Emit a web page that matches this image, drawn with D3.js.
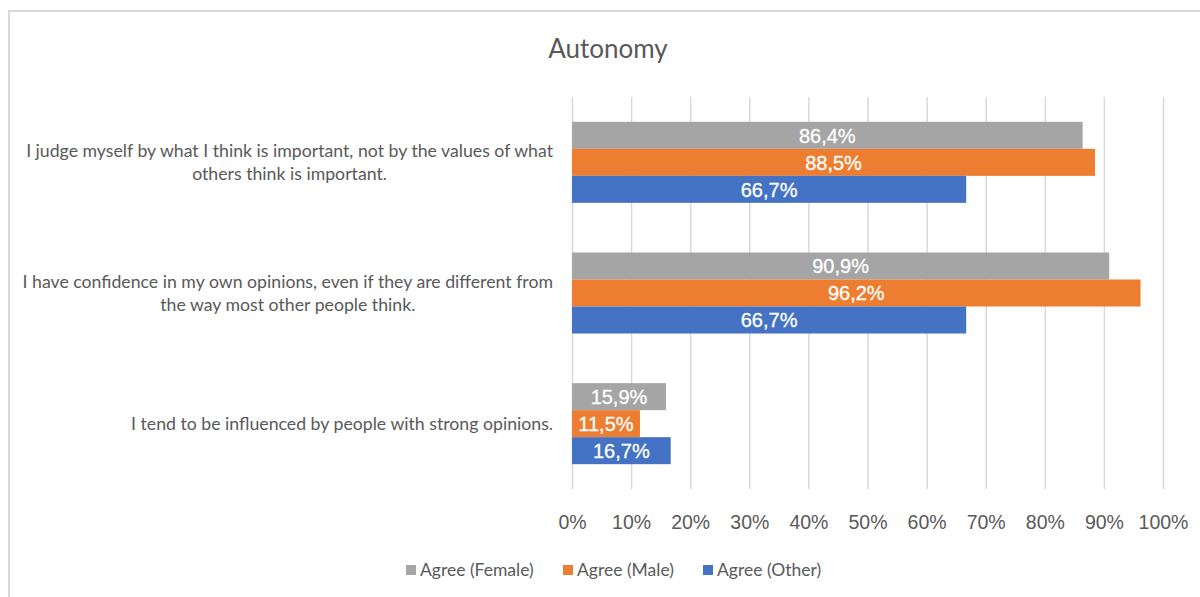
<!DOCTYPE html>
<html>
<head>
<meta charset="utf-8">
<script src="https://cdn.jsdelivr.net/npm/d3@7"></script>
<style>
  html, body { margin: 0; padding: 0; background: #fff; }
  svg { display: block; }
</style>
</head>
<body>
<svg id="chart" width="1200" height="597"></svg>
<script>
const title = "Autonomy";
const categories = [
  ["I judge myself by what I think is important, not by the values of what", "others think is important."],
  ["I have confidence in my own opinions, even if they are different from", "the way most other people think."],
  ["I tend to be influenced by people with strong opinions."]
];
const seriesNames = ["Agree (Female)", "Agree (Male)", "Agree (Other)"];
const seriesColors = ["#a5a5a5", "#ed7d31", "#4472c4"];
const female = [86.4, 90.9, 15.9];
const male = [88.5, 96.2, 11.5];
const other = [66.7, 66.7, 16.7];
const seriesValues = [female, male, other];
const xTicks = [0, 10, 20, 30, 40, 50, 60, 70, 80, 90, 100];

const svg = d3.select("#chart");

// chart border
svg.append("path")
  .attr("d", `M9,597 L9,11 L1200,11`)
  .attr("fill", "none").attr("stroke", "#d9d9d9").attr("stroke-width", 2);

const plot = { left: 572, right: 1163, top: 97, bottom: 489 };

const x = d3.scaleLinear().domain([0, 100]).range([plot.left, plot.right]);
const y0 = d3.scaleBand().domain(d3.range(categories.length))
  .range([plot.top, plot.bottom]).paddingInner(0.38).paddingOuter(0.19);
const y1 = d3.scaleBand().domain(d3.range(seriesNames.length))
  .range([0, y0.bandwidth()]);

// title
svg.append("text")
  .attr("x", 608).attr("y", 58)
  .attr("text-anchor", "middle")
  .attr("font-family", "Lato, 'Open Sans', sans-serif")
  .attr("font-size", 26).attr("fill", "#595959")
  .text(title);

// gridlines + tick labels via axis
const axis = d3.axisBottom(x).tickValues(xTicks)
  .tickSize(-(plot.bottom - plot.top)).tickFormat(d => d + "%").tickPadding(0);
const gAxis = svg.append("g")
  .attr("transform", `translate(0,${plot.bottom})`)
  .call(axis);
gAxis.select(".domain").remove();
gAxis.selectAll(".tick line").attr("stroke", "#d9d9d9").attr("stroke-width", 1.5);
gAxis.selectAll(".tick text")
  .attr("y", 40).attr("dy", 0)
  .attr("font-family", "'Liberation Sans', Arial, sans-serif")
  .attr("font-size", 19.5).attr("fill", "#595959");

// bars
const groups = svg.append("g").selectAll("g")
  .data(categories.map((c, i) => i))
  .join("g")
  .attr("transform", i => `translate(0,${y0(i)})`);

groups.selectAll("rect")
  .data(i => seriesValues.map((vals, s) => ({ s, v: vals[i] })))
  .join("rect")
  .attr("x", x(0))
  .attr("y", d => y1(d.s))
  .attr("width", d => x(d.v) - x(0))
  .attr("height", y1.bandwidth())
  .attr("fill", d => seriesColors[d.s]);

groups.selectAll("text.val")
  .data(i => seriesValues.map((vals, s) => ({ s, v: vals[i] })))
  .join("text")
  .attr("class", "val")
  .attr("x", d => (x(0) + x(d.v)) / 2)
  .attr("y", d => y1(d.s) + y1.bandwidth() / 2)
  .attr("dy", "0.36em")
  .attr("text-anchor", "middle")
  .attr("font-family", "'Liberation Sans', Arial, sans-serif")
  .attr("font-size", 20).attr("fill", "#ffffff")
  .attr("stroke", "#ffffff").attr("stroke-width", 0.3)
  .text(d => d.v.toFixed(1).replace(".", ",") + "%");

// category labels
const labelRight = 553;
categories.forEach((lines, i) => {
  const cy = y0(i) + y0.bandwidth() / 2;
  const lh = 23;
  const t = svg.append("text")
    .attr("font-family", "Lato, 'Open Sans', sans-serif")
    .attr("font-size", 17.7).attr("fill", "#595959")
    .attr("text-anchor", "middle");
  lines.forEach((ln, k) => {
    t.append("tspan").attr("y", cy + (k - (lines.length - 1) / 2) * lh).attr("dy", "0.35em").text(ln);
  });
  const widths = [];
  t.selectAll("tspan").each(function () { widths.push(this.getComputedTextLength()); });
  const maxW = d3.max(widths);
  t.selectAll("tspan").attr("x", labelRight - maxW / 2);
});

// legend
const legendItems = [
  { sx: 406, tx: 420 },
  { sx: 563, tx: 577 },
  { sx: 703, tx: 717 }
];
const lg = svg.append("g");
seriesNames.forEach((name, s) => {
  lg.append("rect").attr("x", legendItems[s].sx).attr("y", 565)
    .attr("width", 10).attr("height", 10).attr("fill", seriesColors[s]);
  lg.append("text").attr("x", legendItems[s].tx).attr("y", 570).attr("dy", "0.35em")
    .attr("font-family", "Lato, 'Open Sans', sans-serif")
    .attr("font-size", 17.5).attr("fill", "#595959")
    .text(name);
});
</script>
</body>
</html>
